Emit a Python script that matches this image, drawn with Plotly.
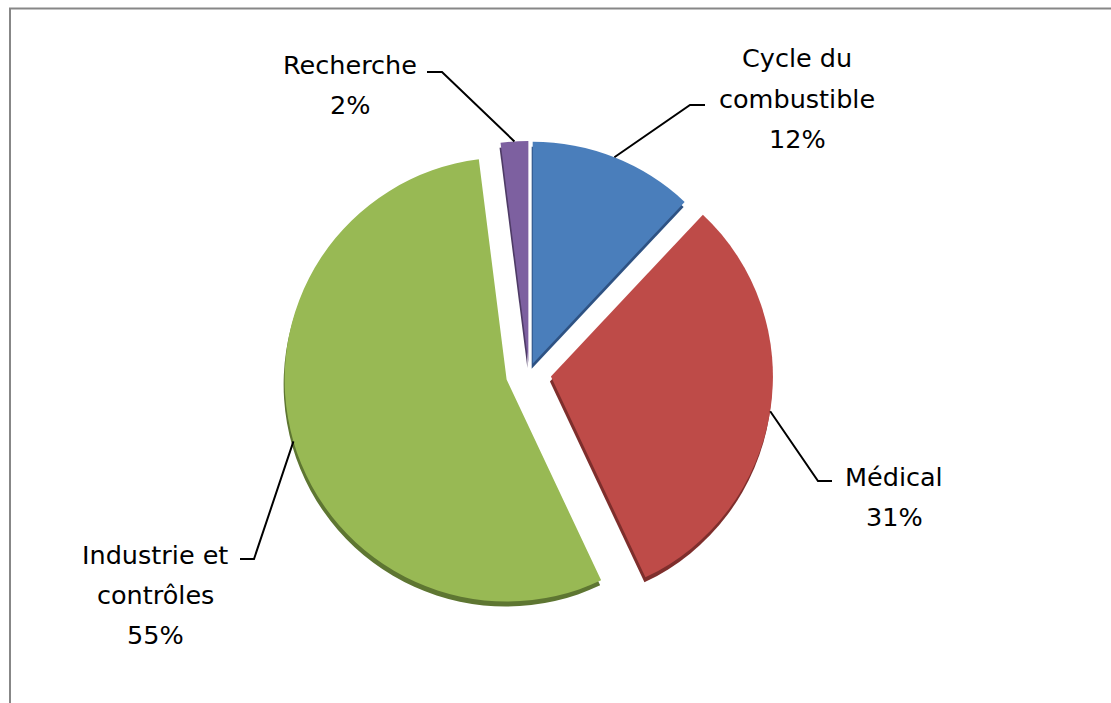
import math
import plotly.graph_objects as go

# ---- data ----
categories = ["Cycle du combustible", "Médical", "Industrie et contrôles", "Recherche"]
values = [12, 31, 55, 2]
name_lines = [["Cycle du", "combustible"], ["Médical"], ["Industrie et", "contrôles"], ["Recherche"]]

# ---- styles / layout ----
W, H = 1111, 703
colors = ["#4A7EBB", "#BE4B48", "#98B954", "#7D60A0"]
shadow_colors = ["#2E5283", "#7E2E2C", "#5E7632", "#4E3B66"]
pulls = [0.045, 0.10, 0.105, 0.045]
CX, CY, R = 529, 373, 222          # pixel center / radius of the pie
FONT = "DejaVu Sans"
FS = 25.5
LINE_GAP = 40

half = R * (1 + max(pulls))
dom_x = [(CX - half) / W, (CX + half) / W]
dom_y = [1 - (CY + half) / H, 1 - (CY - half) / H]
SH_DX, SH_DY = -1, 5
dom_x_sh = [dom_x[0] + SH_DX / W, dom_x[1] + SH_DX / W]
dom_y_sh = [dom_y[0] - SH_DY / H, dom_y[1] - SH_DY / H]

common = dict(labels=categories, values=values, sort=False, direction="clockwise",
              rotation=0, pull=pulls, textinfo="none", hoverinfo="skip",
              showlegend=False)

fig = go.Figure()
fig.add_trace(go.Pie(domain=dict(x=dom_x_sh, y=dom_y_sh),
                     marker=dict(colors=shadow_colors, line=dict(width=0)), **common))
fig.add_trace(go.Pie(domain=dict(x=dom_x, y=dom_y),
                     marker=dict(colors=colors, line=dict(width=0)), **common))

# label layout: (center x, first baseline y, elbow x, elbow y, line end x)
label_pos = [
    (797, 67, 690, 105, 705),
    (894, 485, 818, 481, 832),
    (155, 563, 254, 559, 240),
    (350, 73, 442, 72, 427),
]

def px(x):
    return x / W

def py(y):
    return 1 - y / H

total = sum(values)
cum = 0
annotations = []
shapes = []
for i, v in enumerate(values):
    mid = (cum + v / 2) / total * 2 * math.pi
    cum += v
    dx, dy = math.sin(mid), -math.cos(mid)
    off = pulls[i] * R
    ax = CX + (off + R) * dx
    ay = CY + (off + R) * dy
    cx, b0, ex, ey, lx = label_pos[i]
    lines = name_lines[i] + [f"{v}%"]
    for k, t in enumerate(lines):
        yb = b0 + k * LINE_GAP
        annotations.append(dict(x=px(cx), y=py(yb - 8.5), xref="paper", yref="paper",
                                text=t, showarrow=False, xanchor="center", yanchor="middle",
                                font=dict(family=FONT, size=FS, color="#000000")))
    shapes.append(dict(type="path", xref="paper", yref="paper",
                       path=f"M {px(lx)},{py(ey)} L {px(ex)},{py(ey)} L {px(ax)},{py(ay)}",
                       line=dict(color="#000000", width=2)))

# chart area border
shapes.append(dict(type="rect", xref="paper", yref="paper",
                   x0=px(10), y0=py(720), x1=px(1130), y1=py(8.5),
                   line=dict(color="#878787", width=2), layer="below"))

fig.update_layout(width=W, height=H, margin=dict(l=0, r=0, t=0, b=0),
                  paper_bgcolor="white", plot_bgcolor="white",
                  annotations=annotations, shapes=shapes)

fig.write_html("out.html", config={"displayModeBar": False, "staticPlot": True},
               post_script="document.body.style.margin='0';document.body.style.overflow='hidden';")
